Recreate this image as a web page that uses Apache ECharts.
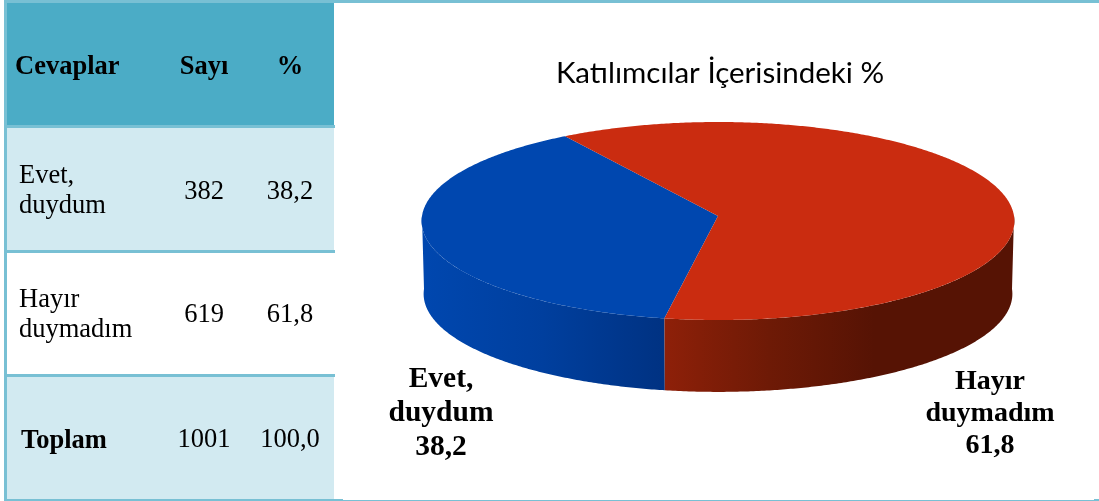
<!DOCTYPE html>
<html><head><meta charset="utf-8">
<style>html,body{margin:0;padding:0;background:#fff}#c{width:1099px;height:501px}</style>
<script src="https://cdn.jsdelivr.net/npm/echarts@6/dist/echarts.min.js"></script>
</head><body><div id="c"></div>
<script>
// ---- data ----
const chartTitle = 'Katılımcılar İçerisindeki %';
const tableHeader = ['Cevaplar', 'Sayı', '%'];
const categories = ['Evet,\nduydum', 'Hayır\nduymadım'];
const counts = [382, 619];
const percents = [38.2, 61.8];
const totalLabel = 'Toplam';
const totalCount = 1001;
const totalPercent = 100.0;
const fmt = v => v.toFixed(1).replace('.', ',');

// ---- look ----
const BORDER = '#78C0D4', HEAD = '#4BACC6', BAND = '#D2EAF1';
const SERIF = '"Liberation Serif","Times New Roman",serif';
const topColors = ['#0047AF', '#CA2C10'];
const wallStops = [
  [[0, '#0047AF'], [0.5, '#003F9E'], [1, '#003282']],
  [[0, '#8E2009'], [0.3, '#6E1A06'], [0.6, '#561304'], [1, '#561304']]
];
const labelAnchors = [[441, 413], [990, 414]];
const labelFonts = [29.5, 28];
const labelLeading = [34, 32];
const START = 99.9;                       // first slice angle, clockwise from +x on screen
const topFace = {x: 718, y: 216, a: 296, b: 98.75};
const baseFace = {x: 718, y: 289, a: 294, b: 97.7};
const PERSP = -0.0505;

function project(f, deg) {
  const t = deg * Math.PI / 180, c = Math.cos(t), s = Math.sin(t), d = 1 + PERSP * s;
  return [f.x + f.a * c / d, f.y + f.b * s / d];
}
function arc(f, from, to) {
  const n = Math.max(2, Math.ceil(Math.abs(to - from) * 2)), p = [];
  for (let i = 0; i <= n; i++) p.push(project(f, from + (to - from) * i / n));
  return p;
}
const total = percents.reduce((a, b) => a + b, 0);

function renderSlice(params, api) {
  const i = params.dataIndex;
  let start = START;
  for (let k = 0; k < i; k++) start += percents[k] / total * 360;
  const end = start + api.value(0) / total * 360;
  const children = [];
  // visible wall: the part of the sweep on the front half
  const ranges = [[0, 180], [360, 540]];
  ranges.forEach(r => {
    const a = Math.max(start, r[0]), b = Math.min(end, r[1]);
    if (b > a) {
      const pts = arc(topFace, a, b).concat(arc(baseFace, b, a));
      children.push({
        type: 'polygon', shape: {points: pts},
        style: {fill: new echarts.graphic.LinearGradient(0, 0, 1, 0,
          wallStops[i].map(s => ({offset: s[0], color: s[1]})))}
      });
    }
  });
  children.push({
    type: 'polygon',
    shape: {points: [[topFace.x, topFace.y]].concat(arc(topFace, start, end))},
    style: {fill: topColors[i]}
  });
  const lab = labelAnchors[i];
  children.push({
    type: 'text', x: lab[0], y: lab[1],
    style: {
      text: categories[i] + '\n' + fmt(api.value(0)),
      font: 'bold ' + labelFonts[i] + 'px ' + SERIF, lineHeight: labelLeading[i], fill: '#000',
      align: 'center', verticalAlign: 'middle'
    }
  });
  return {type: 'group', children};
}

// ---- table ----
const colX = [0, 204, 290];
const rowBands = [[3, 122, HEAD], [128, 122, BAND], [253, 122, '#fff'], [377, 122, BAND]];
const graphics = [];
const rect = (x, y, w, h, fill) => graphics.push({type: 'rect', shape: {x, y, width: w, height: h}, style: {fill}, silent: true});
const txt = (t, x, y, align, bold, lh) => graphics.push({type: 'text', x, y, silent: true,
  style: {text: t, font: (bold ? 'bold ' : '') + '26.5px ' + SERIF, fill: '#000', align, verticalAlign: 'middle', lineHeight: lh || 30}});

rowBands.forEach(b => rect(7, b[0], 327, b[1], b[2]));
rect(4, 0, 1095, 3, BORDER);
rect(4, 0, 3, 500, BORDER);
rect(7, 125, 328, 3, BORDER);
rect(7, 250, 328, 3, BORDER);
rect(7, 374, 328, 3, BORDER);
rect(4, 499, 339, 2, BORDER);
rect(343, 500, 751, 1, BORDER);
rect(1094, 499, 5, 2, BORDER);

txt(tableHeader[0], 15, 67, 'left', true);
txt(tableHeader[1], colX[1], 67, 'center', true);
txt(tableHeader[2], colX[2], 67, 'center', true);
const rowMid = [191, 315];
const numMid = [192, 315];
categories.forEach((c, i) => {
  txt(c, 19, rowMid[i], 'left', false);
  txt(String(counts[i]), colX[1], numMid[i], 'center', false);
  txt(fmt(percents[i]), colX[2], numMid[i], 'center', false);
});
txt(totalLabel, 21, 441, 'left', true);
txt(String(totalCount), colX[1], 440, 'center', false);
txt(fmt(totalPercent), colX[2], 440, 'center', false);

const chart = echarts.init(document.getElementById('c'), null, {renderer: 'canvas'});
chart.setOption({
  animation: false,
  backgroundColor: '#fff',
  title: {
    text: chartTitle, left: 715, top: 68, textAlign: 'center', textVerticalAlign: 'middle',
    textStyle: {fontFamily: 'Lato', fontSize: 29.5, fontWeight: 'normal', color: '#000'}
  },
  graphic: graphics,
  series: [{
    type: 'custom',
    coordinateSystem: 'none',
    renderItem: renderSlice,
    data: percents.map((v, i) => ({name: categories[i], value: [v]}))
  }]
});
</script></body></html>
